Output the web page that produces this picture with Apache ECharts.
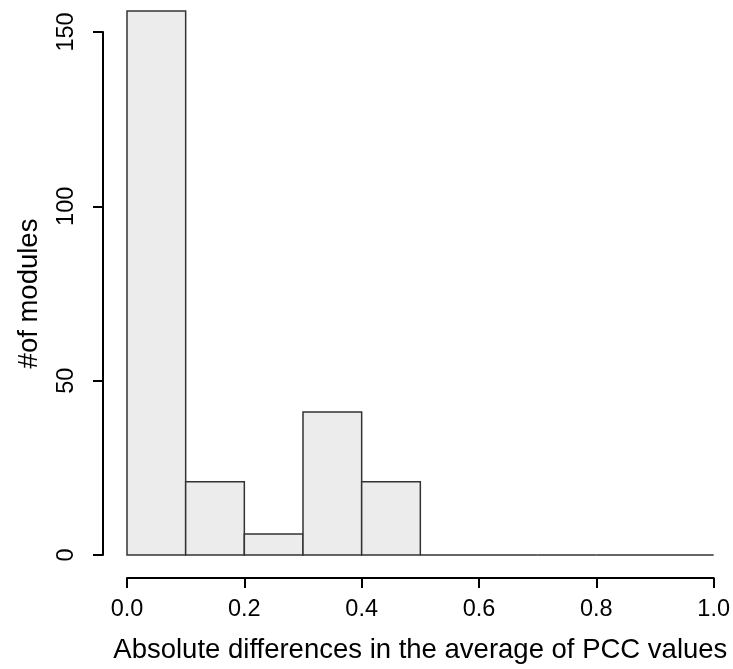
<!DOCTYPE html>
<html>
<head>
<meta charset="utf-8">
<script src="https://cdn.jsdelivr.net/npm/echarts@6/dist/echarts.min.js"></script>
<style>
  html, body { margin: 0; padding: 0; background: #fff; }
  #chart { width: 733px; height: 669px; }
</style>
</head>
<body>
<div id="chart"></div>
<script>
// histogram bins (left edge, right edge) and counts
const binStarts = [0.0, 0.1, 0.2, 0.3, 0.4, 0.5, 0.6, 0.7, 0.8, 0.9];
const binWidth = 0.1;
const counts = [156, 21, 6, 41, 21, 0, 0, 0, 0, 0];

const FONT = '"Liberation Sans", Arial, Helvetica, sans-serif';

const chart = echarts.init(document.getElementById('chart'));

const data = binStarts.map((s, i) => [s, s + binWidth, counts[i]]);

const option = {
  animation: false,
  backgroundColor: '#fff',
  grid: { left: 127, right: 19, top: 32, bottom: 112 },
  xAxis: {
    type: 'value',
    min: 0, max: 1, interval: 0.2,
    offset: 23,
    name: 'Absolute differences in the average of PCC values',
    nameLocation: 'middle',
    nameGap: 58,
    nameTextStyle: { fontFamily: FONT, fontSize: 27.5, color: '#000' },
    axisLine: { show: true, onZero: false, lineStyle: { color: '#000', width: 2 } },
    axisTick: { show: true, length: 10, inside: false, lineStyle: { color: '#000', width: 2 } },
    axisLabel: {
      fontFamily: FONT, fontSize: 23.5, color: '#000', margin: 20,
      formatter: v => v.toFixed(1)
    },
    splitLine: { show: false }
  },
  yAxis: {
    type: 'value',
    min: 0, max: 150, interval: 50,
    offset: 24,
    name: '#of modules',
    nameLocation: 'middle',
    nameRotate: 90,
    nameGap: 60,
    nameTextStyle: { fontFamily: FONT, fontSize: 27.5, color: '#000' },
    axisLine: { show: true, onZero: false, lineStyle: { color: '#000', width: 2 } },
    axisTick: { show: true, length: 10, inside: false, lineStyle: { color: '#000', width: 2 } },
    axisLabel: { fontFamily: FONT, fontSize: 23.5, color: '#000', margin: 24, rotate: 90 },
    splitLine: { show: false }
  },
  series: [{
    type: 'custom',
    clip: false,
    data: data,
    renderItem: function (params, api) {
      const p0 = api.coord([api.value(0), 0]);
      const p1 = api.coord([api.value(1), api.value(2)]);
      return {
        type: 'rect',
        shape: { x: p0[0], y: p1[1], width: p1[0] - p0[0], height: p0[1] - p1[1] },
        style: { fill: '#ececec', stroke: '#333', lineWidth: 1.5 }
      };
    }
  }]
};

chart.setOption(option);
</script>
</body>
</html>
